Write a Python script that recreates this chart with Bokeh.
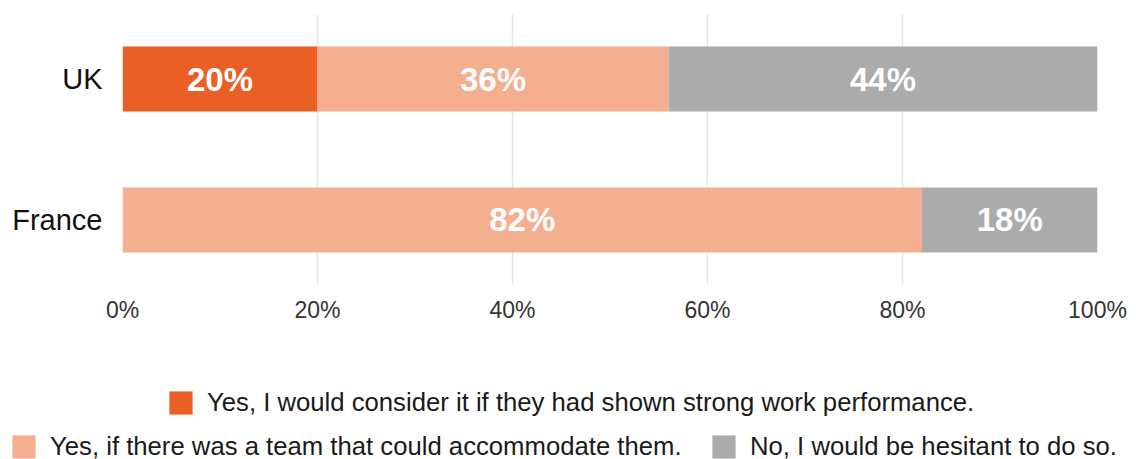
from bokeh.plotting import figure
from bokeh.models import (FactorRange, Range1d, FixedTicker, PrintfTickFormatter,
                          Legend, LegendItem, ColumnDataSource)
from bokeh.core.properties import value
from bokeh.embed import file_html
from bokeh.resources import INLINE

# ---- data ----
countries = ["UK", "France"]
yes_performance = [20, 0]
yes_team = [36, 82]
no_hesitant = [44, 18]
series_keys = ["yes_performance", "yes_team", "no_hesitant"]
series_labels = [
    "Yes, I would consider it if they had shown strong work performance.",
    "Yes, if there was a team that could accommodate them.",
    "No, I would be hesitant to do so.",
]
tick_values = [0, 20, 40, 60, 80, 100]

# ---- style ----
colors = ["#E95F26", "#F4AF91", "#AAABAA"]
FONT = "Liberation Sans"

source = ColumnDataSource(dict(country=countries, yes_performance=yes_performance,
                               yes_team=yes_team, no_hesitant=no_hesitant))

p = figure(width=1136, height=330, output_backend="svg", toolbar_location=None,
           y_range=FactorRange(factors=list(reversed(countries)),
                               range_padding=-0.0425, range_padding_units="absolute"),
           x_range=Range1d(0, 100),
           min_border_left=122, min_border_right=39, min_border_top=14,
           min_border_bottom=46)
p.outline_line_color = None
p.background_fill_color = "white"
p.border_fill_color = "white"

renderers = p.hbar_stack(series_keys, y="country", height=0.46, color=colors,
                         line_color=None, source=source)

# value labels centred in each segment
lx, ly, lt = [], [], []
for i, c in enumerate(countries):
    left = 0
    for key in series_keys:
        v = source.data[key][i]
        if v > 0:
            lx.append(left + v / 2)
            ly.append(c)
            lt.append(f"{v}%")
        left += v
p.text(x="x", y="y", text="t", source=ColumnDataSource(dict(x=lx, y=ly, t=lt)),
       text_font=value(FONT), text_font_style="bold", text_font_size="33px",
       text_color="white", text_align="center", text_baseline="middle")

# axes
p.xaxis.ticker = FixedTicker(ticks=tick_values)
p.xaxis.formatter = PrintfTickFormatter(format="%d%%")
p.xaxis.axis_line_color = None
p.xaxis.major_tick_line_color = None
p.xaxis.major_tick_out = 0
p.xaxis.major_tick_in = 0
p.xaxis.minor_tick_line_color = None
p.xaxis.major_label_text_font = FONT
p.xaxis.major_label_text_font_size = "23px"
p.xaxis.major_label_text_color = "#333333"
p.xaxis.major_label_standoff = 12

p.yaxis.axis_line_color = None
p.yaxis.major_tick_line_color = None
p.yaxis.major_tick_out = 0
p.yaxis.major_tick_in = 0
p.yaxis.minor_tick_line_color = None
p.yaxis.major_label_text_font = FONT
p.yaxis.major_label_text_font_size = "29px"
p.yaxis.major_label_text_color = "#111111"
p.yaxis.major_label_standoff = 20

p.ygrid.grid_line_color = None
p.xgrid.grid_line_color = "#E6E6E6"
p.xgrid.grid_line_width = 1.5

# ---- legend strip (separate figure below the chart) ----
lg = figure(width=1136, height=129, output_backend="svg", toolbar_location=None,
            x_range=Range1d(1000, 1001), y_range=FactorRange(factors=list(reversed(countries))),
            x_axis_location=None, y_axis_location=None,
            min_border_left=0, min_border_right=0, min_border_top=0, min_border_bottom=0)
lg.outline_line_color = None
lg.xgrid.visible = False
lg.ygrid.visible = False
lg_renderers = lg.hbar_stack(series_keys, y="country", height=0.46, color=colors,
                             line_color=None, source=source)
for r in lg_renderers:
    r.visible = False

positions = [(166, 42), (9, -2), (709, -2)]
for r, lab, loc in zip(lg_renderers, series_labels, positions):
    leg = Legend(items=[LegendItem(label=lab, renderers=[r])], location=loc,
                 padding=0, margin=0, spacing=0, glyph_width=29, glyph_height=29,
                 label_standoff=12, label_height=29,
                 label_text_font=FONT, label_text_font_size="25.7px",
                 label_text_color="#1a1a1a", border_line_color=None,
                 background_fill_alpha=0, inactive_fill_alpha=0)
    lg.add_layout(leg)

open("out.html", "w").write(file_html([p, lg], INLINE))
